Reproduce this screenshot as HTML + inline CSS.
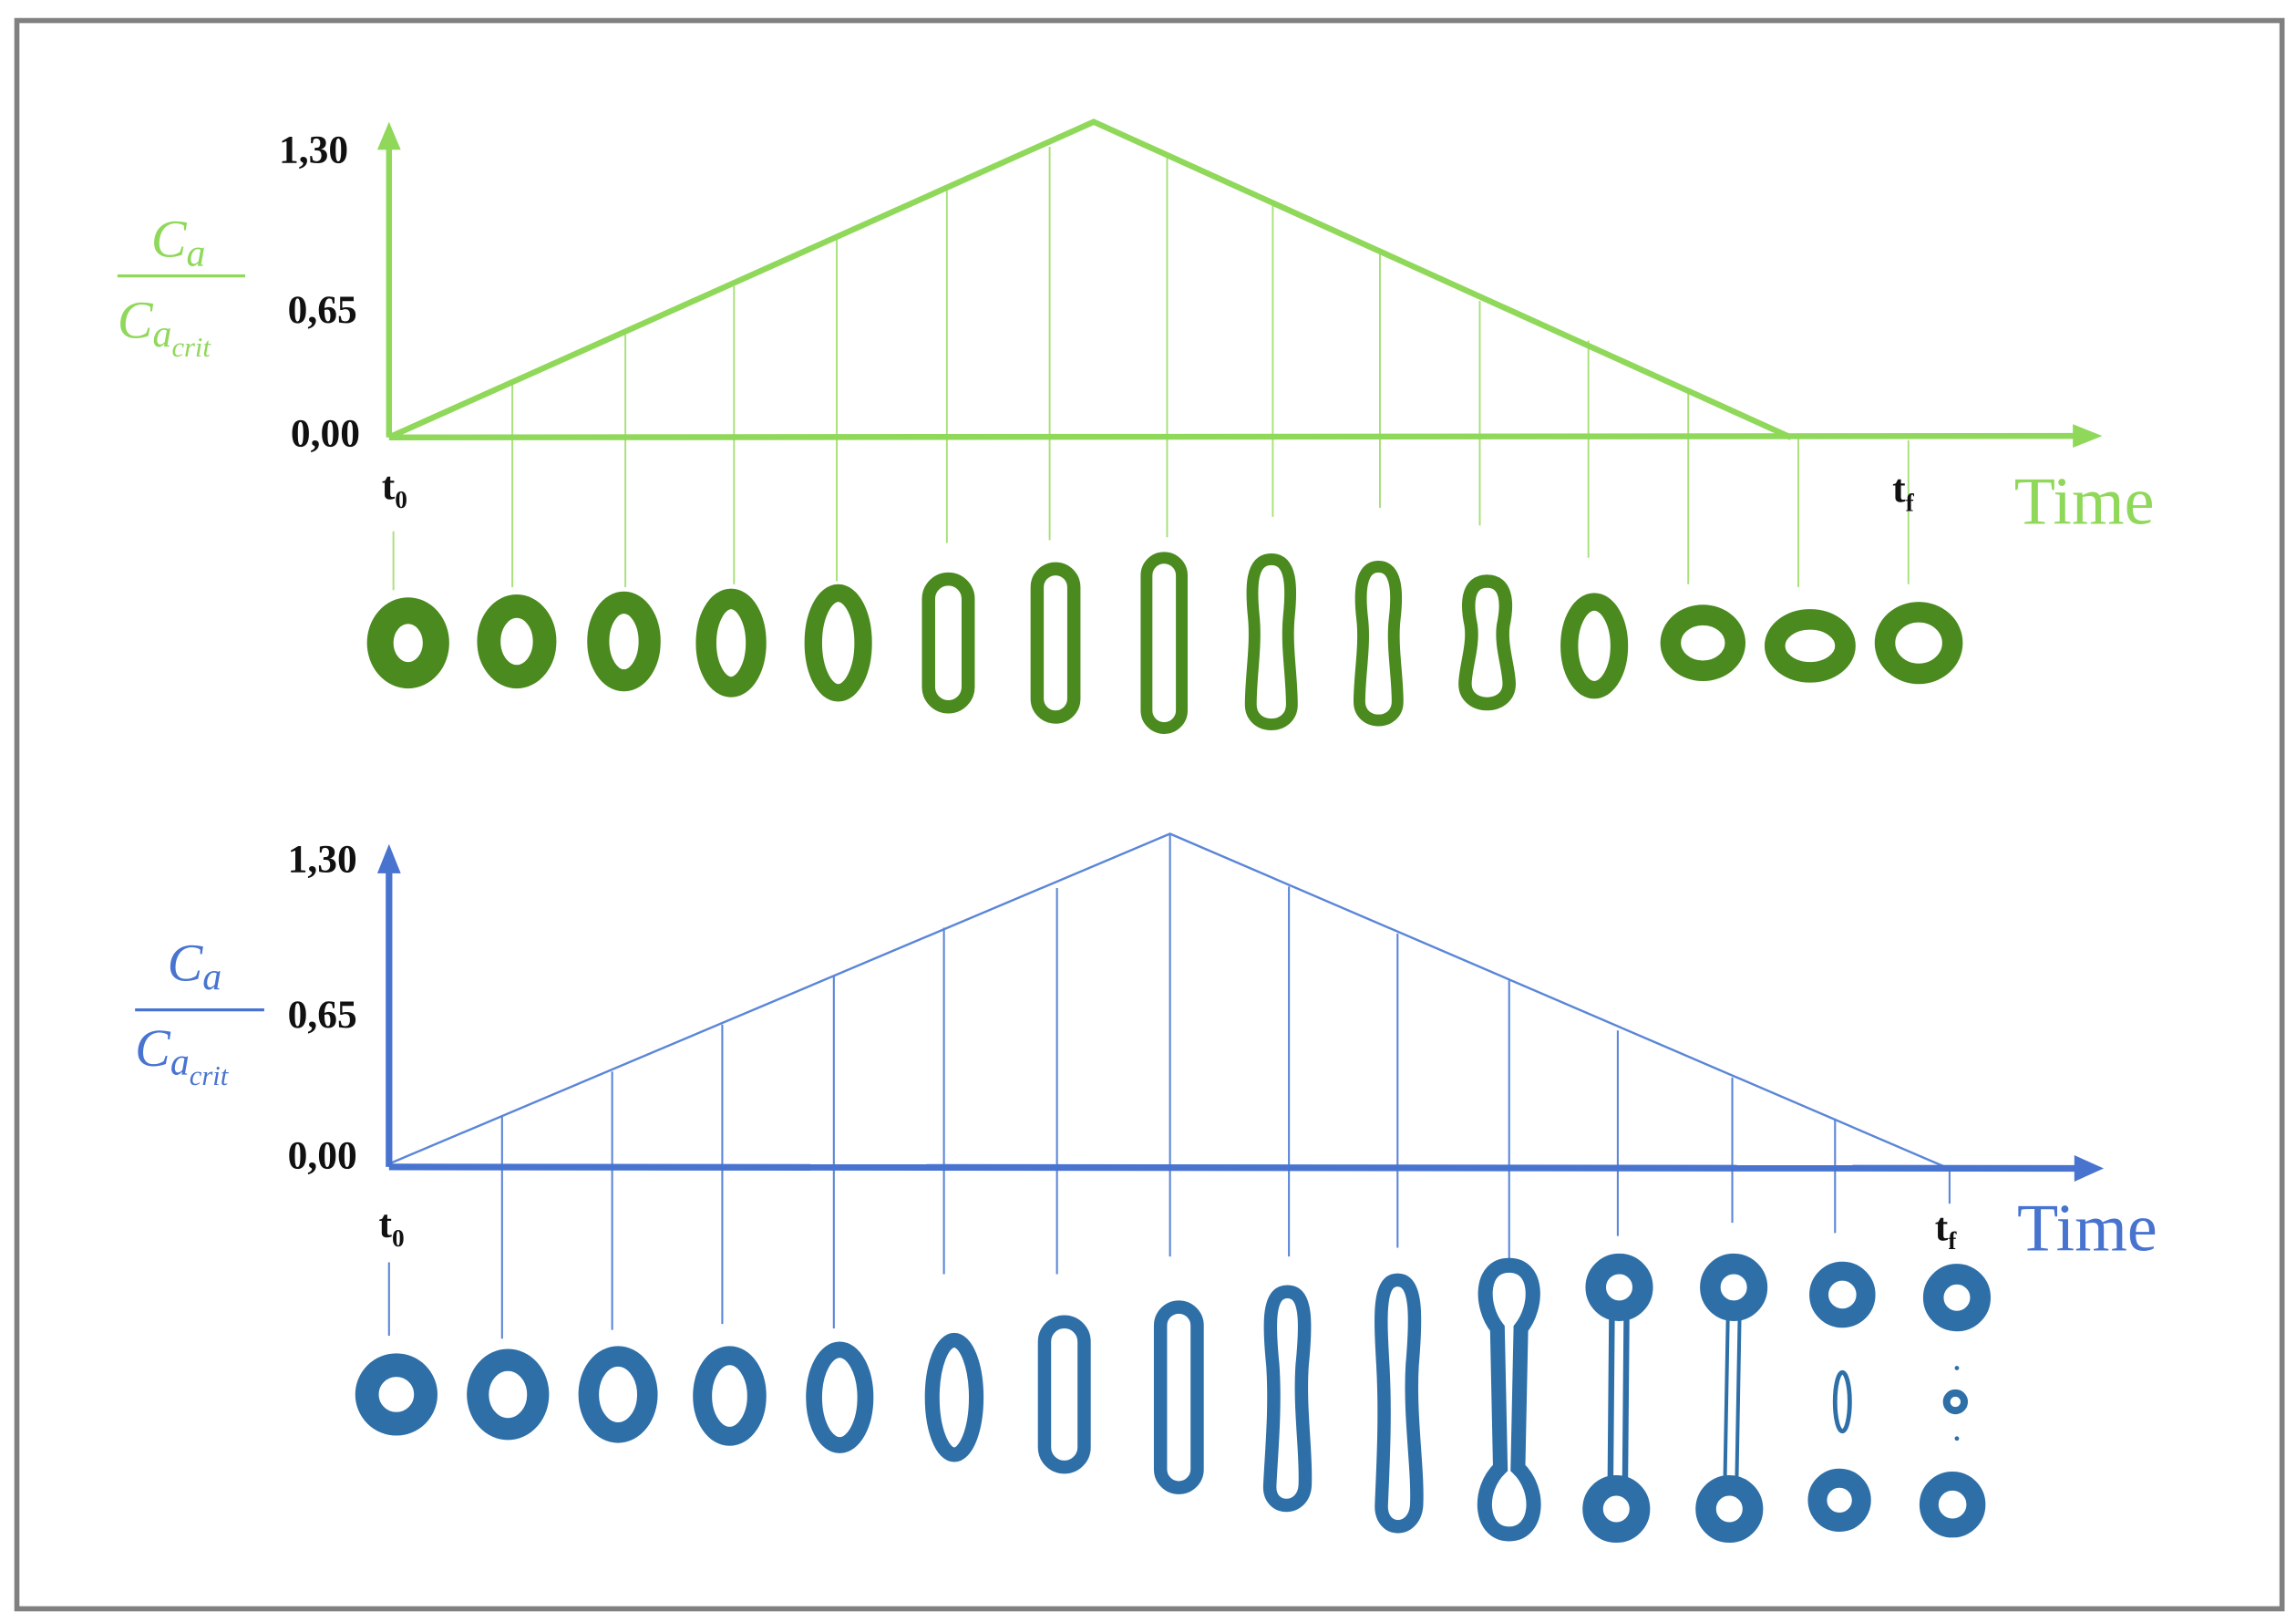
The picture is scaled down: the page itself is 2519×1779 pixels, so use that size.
<!DOCTYPE html>
<html><head><meta charset="utf-8"><style>html,body{margin:0;padding:0;background:#fff}svg{display:block}</style></head>
<body>
<svg width="2519" height="1779" viewBox="0 0 1564 1105" preserveAspectRatio="none" xmlns="http://www.w3.org/2000/svg" font-family="Liberation Serif, serif">
<rect x="0" y="0" width="1564" height="1105" fill="#fff"/>
<rect x="11.5" y="14" width="1543" height="1082" fill="none" stroke="#808080" stroke-width="3.5"/>

<!-- TOP CHART -->
<g stroke="#a8e07a" stroke-width="1.2">
<line x1="268" y1="362" x2="268" y2="402"/>
<line x1="349" y1="262" x2="349" y2="400"/>
<line x1="426" y1="228" x2="426" y2="400"/>
<line x1="500" y1="195" x2="500" y2="398"/>
<line x1="570" y1="162" x2="570" y2="396"/>
<line x1="645" y1="130" x2="645" y2="370"/>
<line x1="715" y1="100" x2="715" y2="368"/>
<line x1="795" y1="106" x2="795" y2="366"/>
<line x1="867" y1="140" x2="867" y2="352"/>
<line x1="940" y1="172" x2="940" y2="346"/>
<line x1="1008" y1="205" x2="1008" y2="358"/>
<line x1="1082" y1="232" x2="1082" y2="380"/>
<line x1="1150" y1="268" x2="1150" y2="398"/>
<line x1="1225" y1="298" x2="1225" y2="400"/>
<line x1="1300" y1="300" x2="1300" y2="398"/>
</g>
<g stroke="#8fd85a" fill="none" stroke-width="4">
<line x1="265" y1="298" x2="265" y2="98"/>
<line x1="265" y1="298" x2="1418" y2="297"/>
<polyline points="267,297 745,83 1220,298"/>
</g>
<polygon points="265,83 257,102 273,102" fill="#8fd85a"/>
<polygon points="1432,297 1412,289 1412,305" fill="#8fd85a"/>
<g font-weight="bold" font-size="27" fill="#111">
<text x="190" y="111">1,30</text>
<text x="196" y="220">0,65</text>
<text x="198" y="304">0,00</text>
<text x="260" y="340">t<tspan font-size="17" dy="6">0</tspan></text>
<text x="1289" y="342">t<tspan font-size="17" dy="6">f</tspan></text>
</g>
<text x="1372" y="357" font-size="46" fill="#8fd85a">Time</text>
<g fill="#8fd85a" font-style="italic" font-size="36">
<text x="103" y="175">C<tspan font-size="26" dy="6">a</tspan></text>
<text x="80" y="230">C<tspan font-size="26" dy="6">a</tspan><tspan font-size="19" dy="7">crit</tspan></text>
</g>
<line x1="80" y1="188" x2="167" y2="188" stroke="#8fd85a" stroke-width="2"/>

<g fill="none" stroke="#4a8a1e">
<ellipse cx="278" cy="438" rx="19" ry="22" stroke-width="18"/>
<ellipse cx="352" cy="437" rx="19" ry="24" stroke-width="16"/>
<ellipse cx="425" cy="437" rx="17.5" ry="26.5" stroke-width="15"/>
<ellipse cx="498" cy="438" rx="17" ry="30" stroke-width="14"/>
<ellipse cx="571" cy="438" rx="17" ry="34" stroke-width="12"/>
<rect x="632.5" y="394.5" width="27" height="87" rx="13.5" stroke-width="9"/>
<rect x="706.5" y="387.5" width="25" height="101" rx="12.5" stroke-width="9"/>
<rect x="781" y="380" width="24" height="116" rx="12" stroke-width="8"/>
<path d="M866,381 C880,381 880,400 878,420 C876,440 880,460 880,480 C880,498 852,498 852,480 C852,460 856,440 854,420 C852,400 852,381 866,381 Z" stroke-width="8"/>
<path d="M939,386 C952,386 952,405 950,422 C948,440 952,460 952,478 C952,495 926,495 926,478 C926,460 930,440 928,422 C926,405 926,386 939,386 Z" stroke-width="8"/>
<path d="M1013,396 C1027,396 1027,412 1024,426 C1022,440 1028,455 1028,466 C1028,484 998,484 998,466 C998,455 1004,440 1002,426 C999,412 999,396 1013,396 Z" stroke-width="9"/>
<ellipse cx="1086" cy="440" rx="17" ry="30" stroke-width="12"/>
<ellipse cx="1160" cy="438" rx="22" ry="19" stroke-width="14"/>
<ellipse cx="1233" cy="440" rx="24" ry="18" stroke-width="14"/>
<ellipse cx="1307" cy="438" rx="23" ry="21" stroke-width="14"/>
</g>

<!-- BOTTOM CHART -->
<g stroke="#5b86d8" stroke-width="1.3">
<line x1="265" y1="860" x2="265" y2="910"/>
<line x1="342" y1="760" x2="342" y2="912"/>
<line x1="417" y1="730" x2="417" y2="906"/>
<line x1="492" y1="698" x2="492" y2="902"/>
<line x1="568" y1="665" x2="568" y2="905"/>
<line x1="643" y1="632" x2="643" y2="868"/>
<line x1="720" y1="605" x2="720" y2="868"/>
<line x1="797" y1="568" x2="797" y2="856"/>
<line x1="878" y1="604" x2="878" y2="856"/>
<line x1="952" y1="636" x2="952" y2="850"/>
<line x1="1028" y1="668" x2="1028" y2="862"/>
<line x1="1102" y1="702" x2="1102" y2="842"/>
<line x1="1180" y1="734" x2="1180" y2="833"/>
<line x1="1250" y1="762" x2="1250" y2="840"/>
<line x1="1328" y1="795" x2="1328" y2="820"/>
</g>
<polyline points="267,792 797,568 1325,795" fill="none" stroke="#5b86d8" stroke-width="1.5"/>
<g stroke="#4874d0" stroke-width="4.5">
<line x1="265" y1="795" x2="265" y2="592"/>
<line x1="265" y1="795" x2="1418" y2="796"/>
</g>
<polygon points="265,575 257,595 273,595" fill="#4874d0"/>
<polygon points="1433,796 1413,787 1413,805" fill="#4874d0"/>
<g font-weight="bold" font-size="27" fill="#111">
<text x="196" y="594">1,30</text>
<text x="196" y="700">0,65</text>
<text x="196" y="796">0,00</text>
<text x="258" y="843">t<tspan font-size="17" dy="6">0</tspan></text>
<text x="1318" y="845">t<tspan font-size="17" dy="6">f</tspan></text>
</g>
<text x="1374" y="852" font-size="46" fill="#4874d0">Time</text>
<g fill="#4874d0" font-style="italic" font-size="36">
<text x="114" y="668">C<tspan font-size="26" dy="6">a</tspan></text>
<text x="92" y="726">C<tspan font-size="26" dy="6">a</tspan><tspan font-size="19" dy="7">crit</tspan></text>
</g>
<line x1="92" y1="688" x2="180" y2="688" stroke="#4874d0" stroke-width="2"/>

<g fill="none" stroke="#2e6fa8">
<ellipse cx="270" cy="950" rx="20" ry="20" stroke-width="16"/>
<ellipse cx="346" cy="950" rx="20.5" ry="23.5" stroke-width="15"/>
<ellipse cx="421" cy="950" rx="20" ry="26" stroke-width="14"/>
<ellipse cx="497" cy="951" rx="18.5" ry="27.5" stroke-width="13"/>
<ellipse cx="572" cy="952" rx="17.5" ry="32.5" stroke-width="11"/>
<ellipse cx="650" cy="952" rx="15" ry="39" stroke-width="10"/>
<rect x="711.5" y="900.5" width="27" height="99" rx="13.5" stroke-width="9"/>
<rect x="790.5" y="890.5" width="25" height="123" rx="12.5" stroke-width="9"/>
<path d="M877,880 C890,880 890,900 887,930 C885,960 890,990 889,1012 C888,1030 864,1030 865,1012 C866,990 869,960 867,930 C864,900 864,880 877,880 Z" stroke-width="9"/>
<path d="M952,872 C965,872 965,895 962,930 C960,965 966,1000 965,1025 C964,1045 940,1045 941,1025 C942,1000 944,965 942,930 C940,895 939,872 952,872 Z" stroke-width="9"/>
<!-- dumbbell 1028 -->
<path d="M1028,862 C1048,862 1048,890 1036,905 L1034,1000 C1050,1015 1048,1045 1028,1045 C1008,1045 1006,1015 1022,1000 L1020,905 C1008,890 1008,862 1028,862 Z" stroke-width="10"/>
<!-- 1102 -->
<circle cx="1103" cy="877" r="16" stroke-width="14"/>
<circle cx="1101" cy="1028" r="16" stroke-width="14"/>
<line x1="1098" y1="895" x2="1097" y2="1010" stroke-width="4"/>
<line x1="1108" y1="895" x2="1107" y2="1010" stroke-width="4"/>
<!-- 1180 -->
<circle cx="1181" cy="877" r="16" stroke-width="14"/>
<circle cx="1178" cy="1028" r="16" stroke-width="14"/>
<line x1="1177" y1="897" x2="1175" y2="1010" stroke-width="2.5"/>
<line x1="1185" y1="897" x2="1183" y2="1010" stroke-width="2.5"/>
<!-- 1255 -->
<circle cx="1255" cy="882" r="16" stroke-width="13"/>
<ellipse cx="1255" cy="955" rx="5" ry="20" stroke-width="3"/>
<circle cx="1253" cy="1022" r="15" stroke-width="13"/>
<!-- 1332 -->
<circle cx="1333" cy="884" r="16" stroke-width="14"/>
<circle cx="1332" cy="955" r="6" stroke-width="5"/>
<circle cx="1330" cy="1025" r="16" stroke-width="13"/>
</g>
<circle cx="1333" cy="932" r="1.5" fill="#2e6fa8"/>
<circle cx="1333" cy="980" r="1.5" fill="#2e6fa8"/>
</svg>
</body></html>
